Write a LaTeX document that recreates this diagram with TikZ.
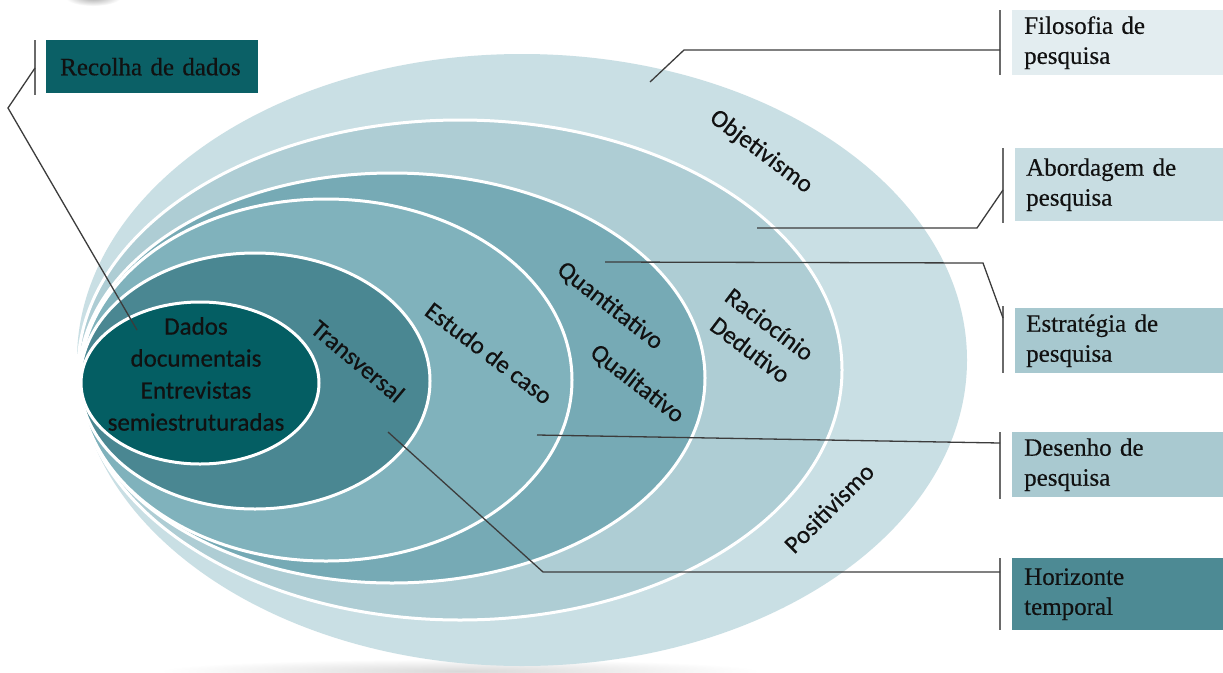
\documentclass[tikz,border=0pt]{standalone}
\usepackage{fontspec}
\setmainfont{Liberation Serif}[FakeBold=0.4]
\newfontfamily\calib{Carlito}[FakeBold=0.5]
\usetikzlibrary{calc}
\definecolor{cA}{HTML}{C9DFE4}
\definecolor{cB}{HTML}{AECDD4}
\definecolor{cC}{HTML}{76AAB5}
\definecolor{cD}{HTML}{80B2BC}
\definecolor{cE}{HTML}{4A8792}
\definecolor{cF}{HTML}{045E63}
\definecolor{bxA}{HTML}{E3EDF0}
\definecolor{bxB}{HTML}{C8DDE2}
\definecolor{bxC}{HTML}{A7C8CF}
\definecolor{bxD}{HTML}{A9C9D0}
\definecolor{bxE}{HTML}{4D8A94}
\definecolor{bxF}{HTML}{0B6066}
\definecolor{txt}{HTML}{111111}
\definecolor{lead}{HTML}{3C3C3C}
\definecolor{barc}{HTML}{6A6A6A}
\begin{document}
\begin{tikzpicture}[x=1pt,y=-1pt,
  ring/.style={draw=white,line width=3pt},
  lbl/.style={font=\calib\fontsize{25}{32}\selectfont,text=txt,align=center,inner sep=0pt},
  box/.style={anchor=north west,minimum width=211pt,text width=187pt,align=left,
    inner xsep=12pt,inner ysep=0pt,font=\fontsize{25}{30}\selectfont,text=txt},
  leader/.style={draw=lead,line width=1.3pt},
  bar/.style={draw=barc,line width=2pt}]
\useasboundingbox (0,0) rectangle (1223,672);
\fill[white] (0,0) rectangle (1223,672);
% shadows
\shade[inner color=gray!30,outer color=white] (460,671) ellipse [x radius=300pt,y radius=12pt];
\shade[inner color=gray!70,outer color=white] (93,-3) ellipse [x radius=28pt,y radius=9pt];
% onion layers
\fill[cA] (522,360) ellipse [x radius=445pt,y radius=306pt];
\path[fill=cB,ring] (460,370) ellipse [x radius=382pt,y radius=250pt];
\path[fill=cC,ring] (392,378) ellipse [x radius=313pt,y radius=205pt];
\path[fill=cD,ring] (326,380) ellipse [x radius=246pt,y radius=181pt];
\path[fill=cE,ring] (255,381) ellipse [x radius=175pt,y radius=128pt];
\path[fill=cF,ring] (200,383) ellipse [x radius=119pt,y radius=81pt];
% layer labels
\node[lbl,rotate=-37] (obj) at (761,152) {Objetivismo};
\node[lbl,rotate=45] (pos) at (829,508) {Positivismo};
\node[lbl,rotate=-37] (rac) at (760,337) {Raciocínio\\Dedutivo};
\node[lbl,rotate=-38] (qua) at (610,306) {Quantitativo};
\node[lbl,rotate=-38] (qual) at (637,384) {Qualitativo};
\node[lbl,rotate=-37] (est) at (489,353) {Estudo de caso};
\node[lbl,rotate=-40] (tra) at (358,361) {Transversal};
\node[lbl] (dad) at (196,374) {Dados\\documentais\\Entrevistas\\semiestruturadas};
% boxes
\node[box,fill=bxF,minimum width=212pt,text width=184pt,inner xsep=14pt,minimum height=53pt] (rec) at (46,40) {Recolha de dados};
\node[box,fill=bxA,minimum height=65pt] (fil) at (1012,10) {Filosofia de\\pesquisa};
\node[box,fill=bxB,minimum width=208pt,text width=186pt,inner xsep=11pt,minimum height=73pt] (abo) at (1015,148) {Abordagem de\\pesquisa};
\node[box,fill=bxC,minimum width=208pt,text width=186pt,inner xsep=11pt,minimum height=65pt] (estr) at (1015,308) {Estratégia de\\pesquisa};
\node[box,fill=bxD,minimum height=65pt] (des) at (1012,432) {Desenho de\\pesquisa};
\node[box,fill=bxE,minimum height=72pt] (hor) at (1012,558) {Horizonte\\temporal};
% bars
\draw[bar] ([xshift=-11pt]rec.north west) -- ([xshift=-11pt,yshift=-2pt]rec.south west);
\draw[bar] ([xshift=-12pt]fil.north west) -- ([xshift=-12pt]fil.south west);
\draw[bar] ([xshift=-12pt]abo.north west) -- ([xshift=-12pt,yshift=-2pt]abo.south west);
\draw[bar] ([xshift=-12pt,yshift=2pt]estr.north west) -- ([xshift=-12pt]estr.south west);
\draw[bar] ([xshift=-12pt]des.north west) -- ([xshift=-12pt,yshift=-2pt]des.south west);
\draw[bar] ([xshift=-12pt]hor.north west) -- ([xshift=-12pt]hor.south west);
% leader points
\coordinate (rp) at (137,330); \coordinate (rk) at (8,108); \coordinate (rb) at (35,68);
\coordinate (fp) at (650,82); \coordinate (fk) at (684,50); \coordinate (fb) at (1000,50);
\coordinate (ap) at (757,228); \coordinate (ak) at (977,228); \coordinate (ab) at (1003,190);
\coordinate (sp) at (605,262); \coordinate (sk) at (983,263); \coordinate (sb) at (1003,318);
\coordinate (dp) at (537,435); \coordinate (db) at (1000,443);
\coordinate (hp) at (388,432); \coordinate (hk) at (543,572); \coordinate (hb) at (1000,572);
\draw[leader] (rp) -- (rk) -- (rb);
\draw[leader] (fp) -- (fk) -- (fb);
\draw[leader] (ap) -- (ak) -- (ab);
\draw[leader] (sp) -- (sk) -- (sb);
\draw[leader] (dp) -- (db);
\draw[leader] (hp) -- (hk) -- (hb);
\end{tikzpicture}
\end{document}
